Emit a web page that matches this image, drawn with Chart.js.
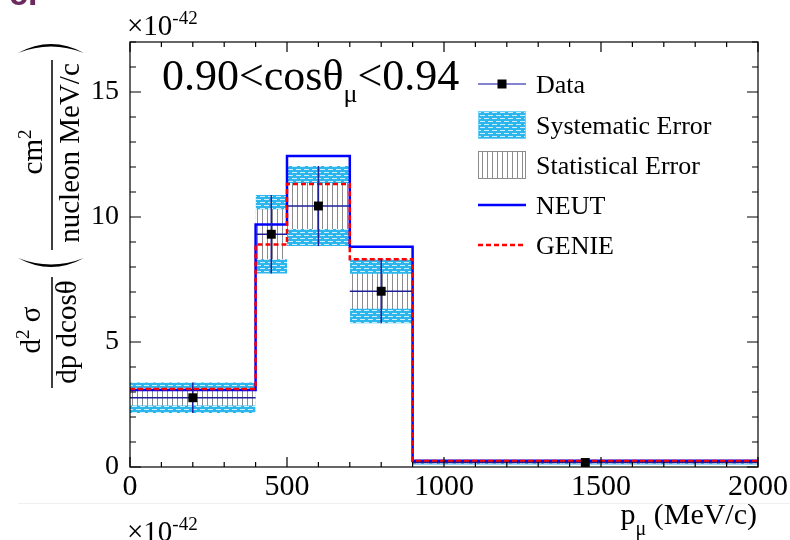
<!DOCTYPE html>
<html>
<head>
<meta charset="utf-8">
<script src="https://cdn.jsdelivr.net/npm/chart.js@4.4.1/dist/chart.umd.min.js"></script>
<style>
html, body { margin: 0; padding: 0; background: #fff; }
canvas { display: block; }
</style>
</head>
<body>
<canvas id="xsec" width="790" height="540"></canvas>
<script>
// d2sigma/dp dcos, units of 1e-42 cm2 / nucleon MeV/c, 0.90 < cos < 0.94
const binEdges = [0, 400, 500, 700, 900, 2000];
const dataX = [200, 450, 600, 800, 1450];
const dataVals = [2.77, 9.31, 10.44, 7.03, 0.18];
const statErr = [0.31, 1.0, 0.92, 0.7, 0.03];
const sysBand = [0.61, 1.57, 1.6, 1.28, 0.08];
const neutVals = [3.08, 9.7, 12.44, 8.81, 0.25];
const genieVals = [3.12, 8.9, 11.32, 8.31, 0.24];
const xTicks = [0, 500, 1000, 1500, 2000];
const yTicks = [0, 5, 10, 15];

const SERIF = '"Liberation Serif", "Times New Roman", serif';

function makePattern(w, h, paint) {
    const c = document.createElement("canvas");
    c.width = w; c.height = h;
    const g = c.getContext("2d");
    paint(g);
    return g.createPattern(c, "repeat");
}

const sysFill = makePattern(8, 6, g => {
    g.fillStyle = "#2cb6ee"; g.fillRect(0, 0, 8, 6);
    g.fillStyle = "#cdeffc";
    g.fillRect(0, 1, 5, 1);
    g.fillRect(4, 4, 4, 1); g.fillRect(0, 4, 1, 1);
});
const statFill = makePattern(5, 4, g => {
    g.fillStyle = "#fff"; g.fillRect(0, 0, 5, 4);
    g.fillStyle = "#8c8c8c"; g.fillRect(2, 0, 1, 4);
});

const datasets = [];

// error boxes: a top edge filled down to its bottom edge
function addBand(half, fillStyle, order) {
    dataVals.forEach((v, i) => {
        const x0 = binEdges[i], x1 = binEdges[i + 1];
        datasets.push({ data: [{ x: x0, y: v + half[i] }, { x: x1, y: v + half[i] }],
            fill: { target: "+1", above: fillStyle, below: fillStyle },
            borderWidth: 0, borderColor: "rgba(0,0,0,0)", pointRadius: 0, order });
        datasets.push({ data: [{ x: x0, y: v - half[i] }, { x: x1, y: v - half[i] }],
            fill: false, borderWidth: 0, borderColor: "rgba(0,0,0,0)", pointRadius: 0, order });
    });
}
addBand(sysBand, sysFill, 6);
addBand(statErr, statFill, 5);

const stepPts = vals => binEdges.map((x, i) => ({ x, y: vals[Math.min(i, vals.length - 1)] }));

datasets.push({ label: "NEUT", data: stepPts(neutVals), stepped: "before", borderColor: "#0000ff",
    borderWidth: 2.5, pointRadius: 0, fill: false, order: 4 });
datasets.push({ label: "GENIE", data: stepPts(genieVals), stepped: "before", borderColor: "#ff0000",
    borderWidth: 2.5, borderDash: [5, 3], pointRadius: 0, fill: false, order: 3 });

const errPts = [];
dataX.forEach((c, i) => {
    errPts.push({ x: binEdges[i], y: dataVals[i] }, { x: binEdges[i + 1], y: dataVals[i] }, { x: c, y: null },
        { x: c, y: dataVals[i] - sysBand[i] }, { x: c, y: dataVals[i] + sysBand[i] }, { x: c, y: null });
});
datasets.push({ data: errPts, borderColor: "#1f1f9a", borderWidth: 1.5, pointRadius: 0, fill: false,
    spanGaps: false, order: 2 });
datasets.push({ label: "Data", data: dataX.map((x, i) => ({ x, y: dataVals[i] })), showLine: false,
    pointStyle: "rect", pointRadius: 6.3, backgroundColor: "#000", borderColor: "#000", borderWidth: 0, order: 1 });

function sup(ctx, parts, x, y, align) {
    // parts: [text, size, dy]
    const widths = parts.map(([t, s]) => { ctx.font = s + "px " + SERIF; return ctx.measureText(t).width; });
    const total = widths.reduce((a, b) => a + b, 0);
    let cx = align === "center" ? x - total / 2 : align === "right" ? x - total : x;
    ctx.textAlign = "left";
    parts.forEach(([t, s, dy], i) => {
        ctx.font = s + "px " + SERIF;
        ctx.fillText(t, cx, y + (dy || 0));
        cx += widths[i];
    });
}

const decorations = {
    id: "decorations",
    afterDraw(chart) {
        const { ctx, chartArea: a, scales: { x, y } } = chart;
        ctx.save();
        ctx.strokeStyle = "#000";
        ctx.lineWidth = 1.2;
        ctx.strokeRect(a.left, a.top, a.right - a.left, a.bottom - a.top);
        ctx.beginPath();
        for (let v = 0; v <= 2000; v += 100) {
            const px = x.getPixelForValue(v), len = xTicks.includes(v) ? 10 : 5;
            ctx.moveTo(px, a.bottom); ctx.lineTo(px, a.bottom - len);
            ctx.moveTo(px, a.top); ctx.lineTo(px, a.top + len);
        }
        for (let v = 0; v <= 17; v += 1) {
            const py = y.getPixelForValue(v), len = yTicks.includes(v) ? 11 : 6;
            ctx.moveTo(a.left, py); ctx.lineTo(a.left + len, py);
            ctx.moveTo(a.right, py); ctx.lineTo(a.right - len, py);
        }
        ctx.stroke();

        ctx.fillStyle = "#000";
        ctx.textBaseline = "alphabetic";
        // exponent labels
        sup(ctx, [["\u00d710", 29], ["-42", 19, -11]], 127, 35, "left");
        sup(ctx, [["\u00d710", 29], ["-42", 19, -11]], 127, 541, "left");

        // x title
        sup(ctx, [["p", 30], ["\u03bc", 20, 11], [" (MeV/c)", 30]], 757, 524, "right");

        // annotation
        sup(ctx, [["0.90<cos\u03b8", 44], ["\u03bc", 26, 12], ["<0.94", 44]], 162, 90, "left");

        // y title, rotated
        const rot = (cy, fn) => { ctx.save(); ctx.translate(52, cy); ctx.rotate(-Math.PI / 2); fn(); ctx.restore(); };
        rot(330, () => sup(ctx, [["d", 29], ["2", 19, -11], [" \u03c3", 29]], 0, -12, "center"));
        rot(332, () => sup(ctx, [["dp dcos\u03b8", 29]], 0, 24, "center"));
        rot(152, () => sup(ctx, [["cm", 29], ["2", 19, -11]], 0, -10, "center"));
        rot(153, () => sup(ctx, [["nucleon MeV/c", 29]], 0, 27, "center"));
        ctx.lineWidth = 1.5;
        ctx.beginPath();
        ctx.moveTo(52, 277); ctx.lineTo(52, 388);
        ctx.moveTo(52, 60); ctx.lineTo(52, 250);
        ctx.stroke();
        // big parentheses
        ctx.beginPath();
        ctx.moveTo(18, 53); ctx.quadraticCurveTo(51, 35, 84, 53); ctx.quadraticCurveTo(51, 40, 18, 53);
        ctx.moveTo(18, 258); ctx.quadraticCurveTo(51, 276, 84, 258); ctx.quadraticCurveTo(51, 271, 18, 258);
        ctx.fill();

        // legend
        const lx0 = 478, lx1 = 526, tx = 536;
        ctx.font = "26px " + SERIF;
        ctx.textAlign = "left";
        const rows = [84, 125, 165, 205, 245];
        ["Data", "Systematic Error", "Statistical Error", "NEUT", "GENIE"].forEach((t, i) => ctx.fillText(t, tx, rows[i] + 9));
        ctx.strokeStyle = "#5a5ac0"; ctx.lineWidth = 1.5;
        ctx.beginPath(); ctx.moveTo(lx0, rows[0]); ctx.lineTo(lx1, rows[0]); ctx.stroke();
        ctx.fillRect(497.5, rows[0] - 4.5, 9, 9);
        ctx.fillStyle = sysFill; ctx.fillRect(lx0, rows[1] - 14, 48, 28);
        ctx.strokeStyle = "#6fd0f5"; ctx.lineWidth = 1; ctx.strokeRect(lx0 + 0.5, rows[1] - 13.5, 47, 27);
        ctx.fillStyle = statFill; ctx.fillRect(lx0, rows[2] - 14, 48, 28);
        ctx.strokeStyle = "#8c8c8c"; ctx.strokeRect(lx0 + 0.5, rows[2] - 13.5, 47, 27);
        ctx.lineWidth = 2.5;
        ctx.strokeStyle = "#0000ff";
        ctx.beginPath(); ctx.moveTo(lx0, rows[3]); ctx.lineTo(lx1, rows[3]); ctx.stroke();
        ctx.strokeStyle = "#ff0000"; ctx.setLineDash([5, 3]);
        ctx.beginPath(); ctx.moveTo(lx0, rows[4]); ctx.lineTo(lx1, rows[4]); ctx.stroke();
        ctx.setLineDash([]);

        // page remnants
        ctx.strokeStyle = "#f0f0f0"; ctx.lineWidth = 1;
        ctx.beginPath(); ctx.moveTo(18, 503.5); ctx.lineTo(790, 503.5); ctx.stroke();
        ctx.fillStyle = "#6a2a5e";
        ctx.font = "bold 34px 'Liberation Sans', sans-serif";
        ctx.fillText("c.", 9, 5);
        ctx.restore();
    }
};

new Chart(document.getElementById("xsec"), {
    type: "line",
    data: { datasets },
    options: {
        responsive: false,
        animation: false,
        layout: { padding: { top: 42, right: 32, left: 0, bottom: 0 } },
        plugins: { legend: { display: false }, tooltip: { enabled: false } },
        scales: {
            x: {
                type: "linear", min: 0, max: 2000,
                grid: { display: false }, border: { display: false },
                ticks: { stepSize: 500, includeBounds: false, autoSkip: false, maxRotation: 0,
                    callback: v => String(v),
                    font: { family: SERIF, size: 30 }, color: "#000", padding: -6 },
                afterFit: s => { s.height = 73; }
            },
            y: {
                min: 0, max: 17,
                grid: { display: false }, border: { display: false },
                ticks: { stepSize: 5, includeBounds: false, callback: v => String(v),
                    font: { family: SERIF, size: 28 }, color: "#000", padding: 3 },
                afterFit: s => { s.width = 130; }
            }
        }
    },
    plugins: [decorations]
});
</script>
</body>
</html>
